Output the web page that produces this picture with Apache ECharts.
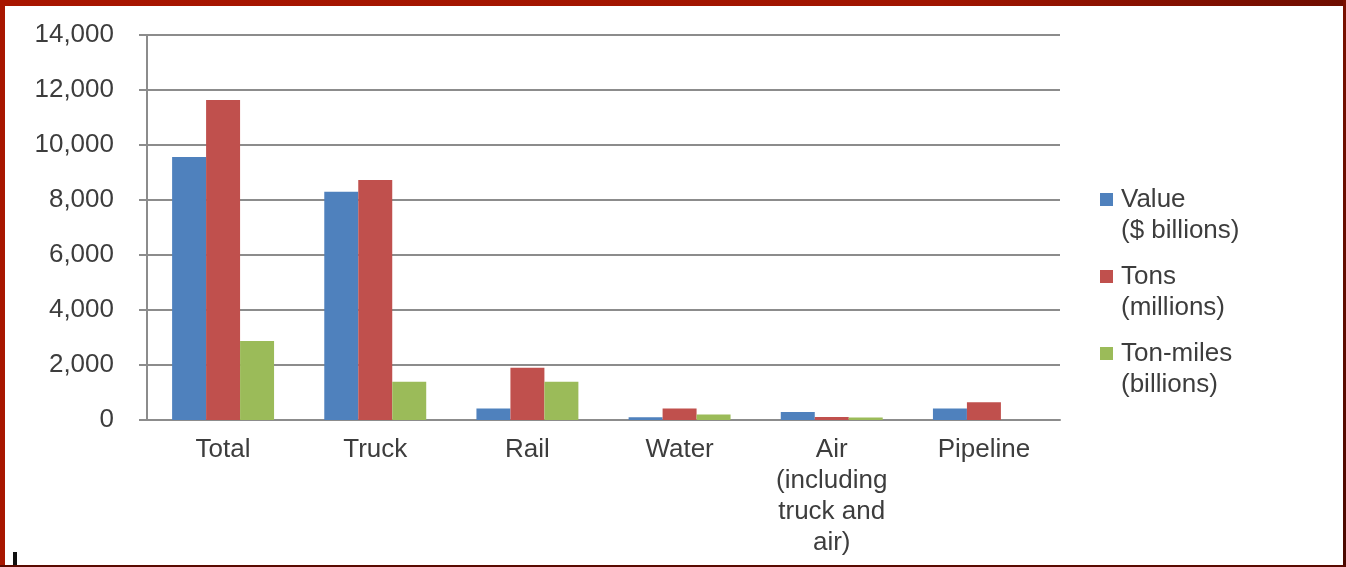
<!DOCTYPE html>
<html>
<head>
<meta charset="utf-8">
<script src="https://cdn.jsdelivr.net/npm/echarts@6/dist/echarts.min.js"></script>
<style>
  html, body { margin: 0; padding: 0; background: #fff; }
  #chart { width: 1346px; height: 567px; }
</style>
</head>
<body>
<div id="chart"></div>
<script>
// Freight shipments by mode
const categories = ['Total', 'Truck', 'Rail', 'Water', 'Air\n(including\ntruck and\nair)', 'Pipeline'];
const valueBillions = [9560, 8300, 420, 100, 290, 420];
const tonsMillions = [11640, 8730, 1900, 420, 110, 650];
const tonMilesBillions = [2870, 1390, 1390, 200, 90, 0];
const seriesNames = ['Value\n($ billions)', 'Tons\n(millions)', 'Ton-miles\n(billions)'];
const yTicks = { min: 0, max: 14000, interval: 2000 };

const FONT = 'Liberation Sans, Arial, sans-serif';
const TEXT = '#3d3d3d';
const GRID = '#8c8c8c';
const colors = ['#4f81bd', '#c0504d', '#9bbb59'];

const chart = echarts.init(document.getElementById('chart'), null, { renderer: 'canvas' });

function bar(name, data, color) {
  return {
    name: name,
    type: 'bar',
    data: data,
    barGap: '0%',
    barCategoryGap: '33%',
    itemStyle: { color: color },
    emphasis: { disabled: true }
  };
}

chart.setOption({
  animation: false,
  color: colors,
  grid: { left: 147, right: 286, top: 35, bottom: 147 },
  legend: {
    orient: 'vertical',
    left: 1100,
    top: 153,
    padding: 0,
    itemWidth: 13,
    itemHeight: 13,
    itemGap: -16,
    icon: 'rect',
    selectedMode: false,
    data: seriesNames,
    // a leading blank line keeps the swatch level with the first text line
    formatter: name => '\n' + name,
    textStyle: {
      fontFamily: FONT,
      fontSize: 26,
      color: TEXT,
      lineHeight: 31,
      padding: [0, 0, 0, 3]
    }
  },
  xAxis: {
    type: 'category',
    data: categories,
    axisLine: { lineStyle: { color: GRID, width: 2 } },
    axisTick: { show: false },
    axisLabel: {
      interval: 0,
      margin: 14,
      fontFamily: FONT,
      fontSize: 26,
      lineHeight: 31,
      color: TEXT,
      align: 'center'
    }
  },
  yAxis: {
    type: 'value',
    min: yTicks.min,
    max: yTicks.max,
    interval: yTicks.interval,
    axisLine: { show: true, lineStyle: { color: GRID, width: 2 } },
    axisTick: { show: true, length: 8, lineStyle: { color: GRID, width: 2 } },
    splitLine: { lineStyle: { color: GRID, width: 2 } },
    axisLabel: {
      margin: 33,
      fontFamily: FONT,
      fontSize: 26,
      color: TEXT,
      formatter: v => v.toLocaleString('en-US')
    }
  },
  series: [
    bar(seriesNames[0], valueBillions, colors[0]),
    bar(seriesNames[1], tonsMillions, colors[1]),
    bar(seriesNames[2], tonMilesBillions, colors[2])
  ],
  graphic: [
    // frame around the chart
    {
      type: 'rect', left: 0, top: 0, silent: true,
      shape: { width: 1346, height: 6 },
      style: { fill: new echarts.graphic.LinearGradient(0, 0, 1, 0, [
        { offset: 0, color: '#a81600' },
        { offset: 0.7, color: '#a01500' },
        { offset: 1, color: '#6e0d00' }
      ]) }
    },
    {
      type: 'rect', left: 0, top: 0, silent: true,
      shape: { width: 5, height: 567 },
      style: { fill: '#a81600' }
    },
    {
      type: 'rect', left: 1343, top: 0, silent: true,
      shape: { width: 3, height: 567 },
      style: { fill: new echarts.graphic.LinearGradient(0, 0, 0, 1, [
        { offset: 0, color: '#7a1000' },
        { offset: 1, color: '#4a0800' }
      ]) }
    },
    {
      type: 'rect', left: 0, top: 565, silent: true,
      shape: { width: 1346, height: 2 },
      style: { fill: '#5a0a00' }
    },
    {
      type: 'rect', left: 13, top: 552, silent: true,
      shape: { width: 4, height: 13 },
      style: { fill: '#111111' }
    }
  ]
});
</script>
</body>
</html>
